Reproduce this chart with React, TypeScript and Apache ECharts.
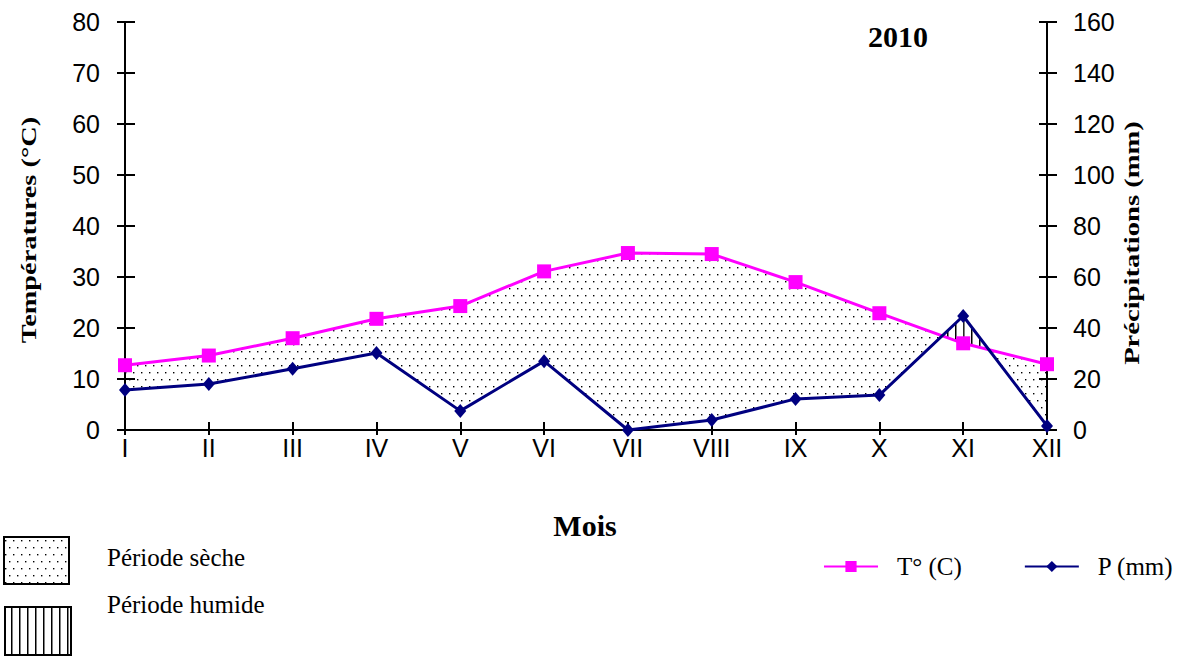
import React, { useEffect, useRef } from "react";
import * as echarts from "echarts";

const months = ["I", "II", "III", "IV", "V", "VI", "VII", "VIII", "IX", "X", "XI", "XII"];
const temperature = [12.7, 14.6, 18, 21.8, 24.3, 31.1, 34.7, 34.5, 29, 22.9, 17, 12.9];
const precipitation = [15.7, 18, 24, 30.2, 7.5, 27, 0, 3.9, 12.2, 13.7, 44.7, 1.6];
const tempTicks = { min: 0, max: 80, interval: 10 };
const precTicks = { min: 0, max: 160, interval: 20 };

const SANS = "'Liberation Sans', Arial, sans-serif";
const SERIF = "'Liberation Serif', 'Times New Roman', serif";

function makeDotPattern(): HTMLCanvasElement {
  const c = document.createElement("canvas");
  c.width = 8;
  c.height = 14;
  const ctx = c.getContext("2d")!;
  ctx.fillStyle = "#000";
  ctx.fillRect(1, 1, 1.4, 1.4);
  ctx.fillRect(5, 8, 1.4, 1.4);
  return c;
}

function makeLinePattern(): HTMLCanvasElement {
  const c = document.createElement("canvas");
  c.width = 8;
  c.height = 8;
  const ctx = c.getContext("2d")!;
  ctx.fillStyle = "#000";
  ctx.fillRect(3, 0, 1.5, 8);
  return c;
}

export default function App() {
  const ref = useRef<HTMLDivElement>(null);
  useEffect(() => {
    if (!ref.current) return;
    const chart = echarts.init(ref.current, undefined, { renderer: "svg" });
    const dry = { image: makeDotPattern(), repeat: "repeat" };
    const wet = { image: makeLinePattern(), repeat: "repeat" };

    const renderItem = (params: any, api: any) => {
      const children: any[] = [];
      for (let i = 0; i < months.length - 1; i++) {
        const t0 = temperature[i], t1 = temperature[i + 1];
        const p0 = precipitation[i] / 2, p1 = precipitation[i + 1] / 2;
        const d0 = t0 - p0, d1 = t1 - p1;
        const A = api.coord([i, t0]);
        const B = api.coord([i + 1, t1]);
        const C = api.coord([i + 1, p1]);
        const D = api.coord([i, p0]);
        if ((d0 >= 0 && d1 >= 0) || (d0 <= 0 && d1 <= 0)) {
          children.push({
            type: "polygon",
            shape: { points: [A, B, C, D] },
            style: { fill: d0 + d1 >= 0 ? dry : wet },
          });
        } else {
          const f = d0 / (d0 - d1);
          const X = [A[0] + (B[0] - A[0]) * f, A[1] + (B[1] - A[1]) * f];
          children.push({
            type: "polygon",
            shape: { points: [A, X, D] },
            style: { fill: d0 > 0 ? dry : wet },
          });
          children.push({
            type: "polygon",
            shape: { points: [X, B, C] },
            style: { fill: d1 > 0 ? dry : wet },
          });
        }
      }
      return { type: "group", children };
    };

    const axisLine = { show: true, lineStyle: { color: "#000", width: 2 } };
    const labelStyle = { color: "#000", fontFamily: SANS, fontSize: 25 };

    chart.setOption({
      animation: false,
      backgroundColor: "#fff",
      grid: { left: 125, right: 143, top: 22, bottom: 230, containLabel: false },
      xAxis: [
        {
          type: "category",
          data: months,
          boundaryGap: false,
          axisLine,
          axisTick: { show: true, inside: true, length: 8, lineStyle: { color: "#000", width: 2 } },
          axisLabel: { ...labelStyle, margin: 5 },
          splitLine: { show: false },
        },
        {
          type: "category",
          data: months,
          position: "bottom",
          boundaryGap: false,
          axisLine: { show: false },
          axisTick: { show: true, inside: false, length: 5, lineStyle: { color: "#000", width: 2 } },
          axisLabel: { show: false },
          splitLine: { show: false },
        },
      ],
      yAxis: [
        {
          type: "value",
          position: "left",
          ...tempTicks,
          axisLine,
          axisTick: { show: true, inside: false, length: 8, lineStyle: { color: "#000", width: 2 } },
          axisLabel: { ...labelStyle, margin: 25 },
          splitLine: { show: false },
        },
        {
          type: "value",
          position: "right",
          ...precTicks,
          axisLine,
          axisTick: { show: true, inside: false, length: 10, lineStyle: { color: "#000", width: 2 } },
          axisLabel: { ...labelStyle, margin: 26 },
          splitLine: { show: false },
        },
        {
          type: "value",
          position: "left",
          ...tempTicks,
          axisLine: { show: false },
          axisTick: { show: true, inside: true, length: 10, lineStyle: { color: "#000", width: 2 } },
          axisLabel: { show: false },
          splitLine: { show: false },
        },
        {
          type: "value",
          position: "right",
          ...precTicks,
          axisLine: { show: false },
          axisTick: { show: true, inside: true, length: 8, lineStyle: { color: "#000", width: 2 } },
          axisLabel: { show: false },
          splitLine: { show: false },
        },
      ],
      legend: {
        data: ["T° (C)", "P (mm)"],
        left: 818,
        top: 549,
        itemWidth: 54,
        itemHeight: 14,
        itemGap: 62,
        textStyle: { color: "#000", fontFamily: SERIF, fontSize: 25, padding: [0, 0, 0, 14] },
      },
      series: [
        {
          type: "custom",
          name: "area",
          xAxisIndex: 0,
          yAxisIndex: 0,
          data: [[0, 0]],
          renderItem,
          silent: true,
          clip: false,
          z: 1,
        },
        {
          type: "line",
          name: "T° (C)",
          xAxisIndex: 0,
          yAxisIndex: 0,
          data: temperature,
          symbol: "rect",
          symbolSize: 14,
          itemStyle: { color: "#FF00FF" },
          lineStyle: { color: "#FF00FF", width: 3 },
          z: 3,
        },
        {
          type: "line",
          name: "P (mm)",
          xAxisIndex: 0,
          yAxisIndex: 1,
          data: precipitation,
          symbol: "diamond",
          symbolSize: [12, 14],
          itemStyle: { color: "#000080" },
          lineStyle: { color: "#000080", width: 3 },
          z: 4,
        },
      ],
      graphic: [
        {
          type: "text",
          x: 28,
          y: 230,
          rotation: Math.PI / 2,
          scaleX: 1.29,
          style: {
            text: "Températures (°C)",
            font: `bold 22px ${SERIF}`,
            fill: "#000",
            textAlign: "center",
            textVerticalAlign: "middle",
          },
        },
        {
          type: "text",
          x: 1132,
          y: 243,
          rotation: Math.PI / 2,
          scaleX: 1.3,
          style: {
            text: "Précipitations (mm)",
            font: `bold 22px ${SERIF}`,
            fill: "#000",
            textAlign: "center",
            textVerticalAlign: "middle",
          },
        },
        {
          type: "text",
          x: 585,
          y: 525,
          style: {
            text: "Mois",
            font: `bold 30px ${SERIF}`,
            fill: "#000",
            textAlign: "center",
            textVerticalAlign: "middle",
          },
        },
        {
          type: "text",
          x: 898,
          y: 36,
          style: {
            text: "2010",
            font: `bold 30px ${SERIF}`,
            fill: "#000",
            textAlign: "center",
            textVerticalAlign: "middle",
          },
        },
        {
          type: "rect",
          shape: { x: 4, y: 537, width: 65, height: 47 },
          style: { fill: dry, stroke: "#000", lineWidth: 2 },
        },
        {
          type: "rect",
          shape: { x: 5, y: 607, width: 66, height: 48 },
          style: { fill: wet, stroke: "#000", lineWidth: 2 },
        },
        {
          type: "text",
          x: 107,
          y: 557,
          style: {
            text: "Période sèche",
            font: `25px ${SERIF}`,
            fill: "#000",
            textAlign: "left",
            textVerticalAlign: "middle",
          },
        },
        {
          type: "text",
          x: 107,
          y: 604,
          style: {
            text: "Période humide",
            font: `25px ${SERIF}`,
            fill: "#000",
            textAlign: "left",
            textVerticalAlign: "middle",
          },
        },
      ],
    });
    return () => chart.dispose();
  }, []);
  return (
    <div
      ref={ref}
      style={{ position: "fixed", left: 0, top: 0, width: 1190, height: 660, background: "#fff" }}
    />
  );
}
